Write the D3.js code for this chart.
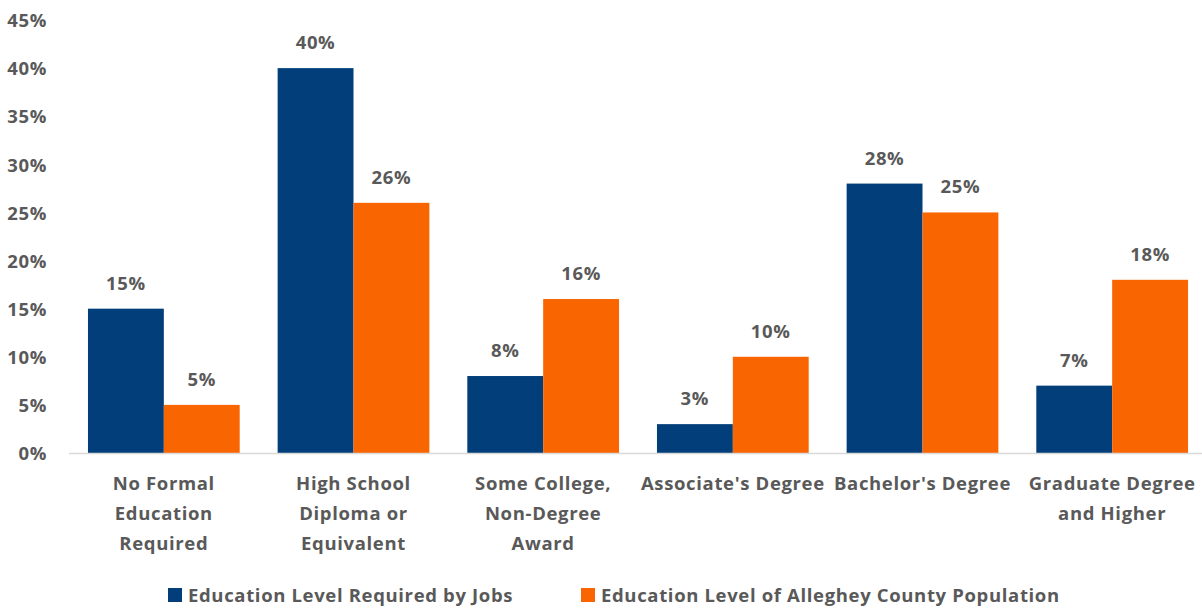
<!DOCTYPE html>
<html>
<head>
<meta charset="utf-8">
<script src="https://cdn.jsdelivr.net/npm/d3@7"></script>
<style>
  html, body { margin: 0; padding: 0; background: #fff; }
  svg { display: block; }
  text { font-family: "Open Sans", Lato, sans-serif; font-weight: 700; fill: #595959; letter-spacing: 0.65px; }
</style>
</head>
<body>
<svg id="chart" width="1202" height="610"></svg>
<script>
// Category labels (line breaks marked with "\n")
const categories = [
  "No Formal\nEducation\nRequired",
  "High School\nDiploma or\nEquivalent",
  "Some College,\nNon-Degree\nAward",
  "Associate's Degree",
  "Bachelor's Degree",
  "Graduate Degree\nand Higher"
];
const seriesNames = [
  "Education Level Required by Jobs",
  "Education Level of Alleghey County Population"
];
const jobsValues = [15, 40, 8, 3, 28, 7];
const populationValues = [5, 26, 16, 10, 25, 18];
const yTicks = [0, 5, 10, 15, 20, 25, 30, 35, 40, 45];
const colors = ["#023f7a", "#f96500"];

const fontSize = 18.5;
const svg = d3.select("#chart");
const width = 1202, height = 610;
const margin = { left: 69, right: -5, top: 20, bottom: 157 };
const plotBottom = height - margin.bottom;

const x0 = d3.scaleBand()
  .domain(d3.range(categories.length))
  .range([margin.left, width - margin.right])
  .paddingInner(0.2)
  .paddingOuter(0.1);

const x1 = d3.scaleBand()
  .domain([0, 1])
  .range([0, x0.bandwidth()]);

const y = d3.scaleLinear()
  .domain([0, 45])
  .range([plotBottom, margin.top]);

const data = categories.map((c, i) => ({ i, values: [jobsValues[i], populationValues[i]] }));

// Y axis labels
const yAxis = d3.axisLeft(y)
  .tickValues(yTicks)
  .tickFormat(d => d + "%")
  .tickSize(0)
  .tickPadding(0);
const yg = svg.append("g")
  .attr("transform", `translate(47,0)`)
  .call(yAxis);
yg.select(".domain").remove();
yg.selectAll("text")
  .attr("font-size", fontSize)
  .attr("dy", "0.36em")
  .style("font-family", "'Open Sans', Lato, sans-serif")
  .style("font-weight", 700)
  .attr("fill", "#595959");

// Bars
const groups = svg.append("g").selectAll("g")
  .data(data)
  .join("g")
  .attr("transform", d => `translate(${x0(d.i)},0)`);

groups.selectAll("rect")
  .data(d => d.values.map((v, s) => ({ v, s })))
  .join("rect")
  .attr("x", d => x1(d.s))
  .attr("width", x1.bandwidth())
  .attr("y", d => y(d.v))
  .attr("height", d => y(0) - y(d.v))
  .attr("fill", d => colors[d.s]);

// Value labels
groups.selectAll("text.val")
  .data(d => d.values.map((v, s) => ({ v, s })))
  .join("text")
  .attr("class", "val")
  .attr("x", d => x1(d.s) + x1.bandwidth() / 2)
  .attr("y", d => y(d.v) - 19)
  .attr("text-anchor", "middle")
  .attr("font-size", fontSize)
  .text(d => d.v + "%");

// Baseline
svg.append("line")
  .attr("x1", 69).attr("x2", width)
  .attr("y1", y(0) + 0.5).attr("y2", y(0) + 0.5)
  .attr("stroke", "#d9d9d9")
  .attr("stroke-width", 1.5);

// Category labels
const xAxis = d3.axisBottom(x0).tickSize(0).tickFormat("");
const xg = svg.append("g").attr("transform", `translate(0,${plotBottom})`).call(xAxis);
xg.select(".domain").remove();
xg.selectAll(".tick").each(function(d) {
  const t = d3.select(this).append("text")
    .attr("text-anchor", "middle")
    .attr("font-size", fontSize)
    .attr("y", 37);
  categories[d].split("\n").forEach((line, k) => {
    t.append("tspan").attr("x", x0.bandwidth() / 2).attr("dy", k === 0 ? 0 : 30).text(line);
  });
  d3.select(this).attr("transform", `translate(${x0(d)},0)`);
});

// Legend
const legendItems = [
  { name: seriesNames[0], color: colors[0], x: 168 },
  { name: seriesNames[1], color: colors[1], x: 581 }
];
const lg = svg.append("g").selectAll("g").data(legendItems).join("g")
  .attr("transform", d => `translate(${d.x},588)`);
lg.append("rect").attr("width", 14).attr("height", 14).attr("fill", d => d.color);
lg.append("text").attr("x", 20).attr("y", 14).attr("font-size", fontSize).text(d => d.name);
</script>
</body>
</html>
